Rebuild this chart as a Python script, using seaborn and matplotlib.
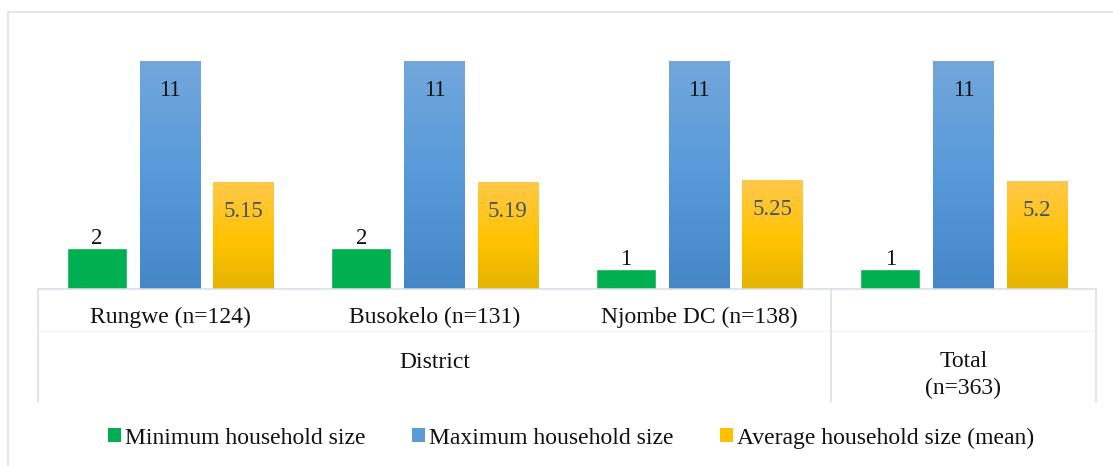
import numpy as np
import pandas as pd
import matplotlib
matplotlib.use("Agg")
import matplotlib.pyplot as plt
import matplotlib.transforms as mtransforms
from matplotlib.colors import LinearSegmentedColormap
from matplotlib.patches import Patch
from matplotlib.lines import Line2D
import seaborn as sns

# Household size by district
districts = ["Rungwe (n=124)", "Busokelo (n=131)", "Njombe DC (n=138)", "Total (n=363)"]
series = ["Minimum household size", "Maximum household size", "Average household size (mean)"]
minimum = [2, 2, 1, 1]
maximum = [11, 11, 11, 11]
average = [5.15, 5.19, 5.25, 5.2]
group_label = "District"

df = pd.DataFrame({
    "group": districts * 3,
    "series": np.repeat(series, len(districts)),
    "value": minimum + maximum + average,
})

GREEN = "#00B050"
BLUE = "#5B9BD5"
GOLD = "#FFC000"
LINE = "#D9DDE3"

blue_grad = LinearSegmentedColormap.from_list(
    "blue_grad", [(0.0, "#4586C6"), (0.5, "#579AD9"), (1.0, "#73A7DC")])
gold_grad = LinearSegmentedColormap.from_list(
    "gold_grad", [(0.0, "#E5B400"), (0.45, "#FFC300"), (1.0, "#FFC84A")])

sns.set_theme(style="white")
plt.rcParams["font.family"] = ["Liberation Serif", "DejaVu Serif"]

fig = plt.figure(figsize=(11.13, 4.66), dpi=100)
fig.patch.set_facecolor("white")
ax = fig.add_axes([0.03387, 0.37918, 0.95058, 0.53434])

sns.barplot(data=df, x="group", y="value", hue="series", order=districts,
            hue_order=series, palette=[GREEN, BLUE, GOLD], saturation=1,
            width=0.83, gap=0.18, errorbar=None, legend=False, ax=ax)

ax.set_xlim(-0.5, len(districts) - 0.5)
ax.set_ylim(0, 12)

# vertical gradient fills for the max and mean bars
grad = np.linspace(0, 1, 256).reshape(-1, 1)
for cont, cmap in ((ax.containers[1], blue_grad), (ax.containers[2], gold_grad)):
    for bar in cont:
        x0, w, h = bar.get_x(), bar.get_width(), bar.get_height()
        im = ax.imshow(grad, extent=[x0, x0 + w, 0, h], origin="lower",
                       cmap=cmap, aspect="auto", interpolation="bicubic",
                       zorder=bar.get_zorder() + 0.1)
        im.set_clip_path(bar)
ax.set_xlim(-0.5, len(districts) - 0.5)
ax.set_ylim(0, 12)

# value labels
LABEL_SIZE = 16.5
for bar, v in zip(ax.containers[0], minimum):
    ax.annotate(f"{v:g}", (bar.get_x() + bar.get_width() / 2, bar.get_height()),
                xytext=(0, 4), textcoords="offset pixels", ha="center",
                va="baseline", fontsize=LABEL_SIZE, color="#111111", zorder=5)
for bar, v in zip(ax.containers[1], maximum):
    ax.annotate(f"{v:g}", (bar.get_x() + bar.get_width() / 2, bar.get_height()),
                xytext=(0, -19), textcoords="offset pixels", ha="center",
                va="top", fontsize=LABEL_SIZE, color="#111111", zorder=5)
for bar, v in zip(ax.containers[2], average):
    ax.annotate(f"{v:g}", (bar.get_x() + bar.get_width() / 2, bar.get_height()),
                xytext=(0, -19), textcoords="offset pixels", ha="center",
                va="top", fontsize=LABEL_SIZE, color="#44546A", zorder=5)

# category axis: first-level labels, then grouping row
ax.set_xticks(range(len(districts)))
ax.set_xticklabels(districts[:3] + [""])
ax.tick_params(axis="x", length=0, pad=12.5, labelsize=17, labelcolor="#111111")
ax.set_yticks([])
ax.set_xlabel("")
ax.set_ylabel("")
sns.despine(ax=ax, left=True, bottom=True)

trans = mtransforms.blended_transform_factory(ax.transData, ax.transAxes)
box_bottom = -0.4514
lo, hi = -0.5, len(districts) - 0.5
ax.plot([lo, hi], [0, 0], transform=trans, color=LINE, lw=1.1, clip_on=False, zorder=4)
ax.plot([lo, hi], [-0.169, -0.169], transform=trans, color="#F3F4F7", lw=0.8, clip_on=False)
for xv in (lo, 2.5, hi):
    ax.plot([xv, xv], [0, box_bottom], transform=trans, color=LINE, lw=1.1, clip_on=False)

ax.text(1, -0.292, group_label, transform=trans, ha="center", va="center",
        fontsize=17, color="#111111")
ax.text(3, -0.345, districts[3].replace(" (", "\n("), transform=trans,
        ha="center", va="center", fontsize=17, color="#111111", linespacing=1.38)

# legend
handles = [Patch(facecolor=c, edgecolor="none") for c in (GREEN, "#5B9BD5", "#FFC000")]
fig.legend(handles, series, loc="center", bbox_to_anchor=(0.513, 1 - 438 / 466),
           ncol=3, frameon=False, fontsize=17, handlelength=0.55,
           handleheight=0.55, handletextpad=0.18, columnspacing=1.95,
           borderaxespad=0, labelcolor="#111111")

# chart-area border
bx, by = 8.3 / 1113, 1 - 11.7 / 466
fig.add_artist(Line2D([bx, bx], [0, by], transform=fig.transFigure, color=LINE, lw=1.1))
fig.add_artist(Line2D([bx, 1], [by, by], transform=fig.transFigure, color=LINE, lw=1.1))

fig.savefig("out.png", dpi=100, facecolor="white")
